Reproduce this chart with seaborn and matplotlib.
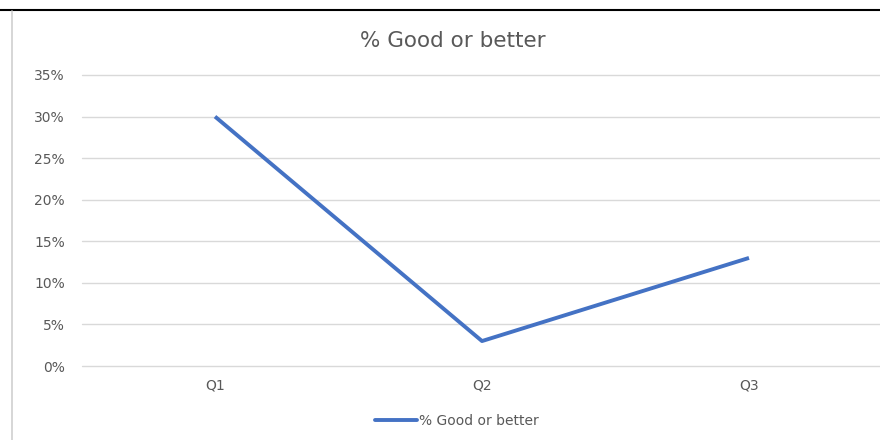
import matplotlib
matplotlib.use("Agg")
import matplotlib.pyplot as plt
import matplotlib.ticker as mticker
from matplotlib.lines import Line2D
import seaborn as sns
import pandas as pd

quarters = ["Q1", "Q2", "Q3"]
pct_good = [0.30, 0.03, 0.13]
series_name = "% Good or better"

sns.set_theme(style="white")
plt.rcParams["font.family"] = ["DejaVu Sans"]

text_color = "#595959"
line_color = "#4472C4"
grid_color = "#D9D9D9"

df = pd.DataFrame({"quarter": quarters, "value": pct_good})

fig = plt.figure(figsize=(8.8, 4.4), dpi=100)
ax = fig.add_axes([81.5 / 880, 1 - 366 / 440, (882.5 - 81.5) / 880, (366 - 75) / 440])

sns.lineplot(data=df, x="quarter", y="value", ax=ax, color=line_color,
             linewidth=2.8, sort=False, legend=False, solid_capstyle="butt")

ax.set_xlim(-0.5, 2.5)
ax.set_ylim(0, 0.35)
ax.yaxis.set_major_locator(mticker.MultipleLocator(0.05))
ax.yaxis.set_major_formatter(mticker.PercentFormatter(1.0, decimals=0))
ax.grid(axis="y", color=grid_color, linewidth=1)
for gl in ax.get_ygridlines():
    gl.set_clip_on(False)
ax.set_axisbelow(True)
for s in ax.spines.values():
    s.set_visible(False)
ax.set_xlabel("")
ax.set_ylabel("")
ax.tick_params(axis="both", length=0, labelsize=10, colors=text_color)
ax.tick_params(axis="y", pad=12)
ax.tick_params(axis="x", pad=9)

fig.text(453 / 880, 1 - 41 / 440, series_name, ha="center", va="center",
         fontsize=15.5, color=text_color)

handle = Line2D([], [], color=line_color, linewidth=2.8)
fig.legend([handle], [series_name], loc="center", bbox_to_anchor=(457 / 880, 1 - 421 / 440),
           frameon=False, fontsize=10, labelcolor=text_color,
           handlelength=3.0, handletextpad=0.2)

# chart frame edges
fig.add_artist(Line2D([0, 1], [1 - 10.5 / 440] * 2, transform=fig.transFigure,
                      color="black", linewidth=1.5))
fig.add_artist(Line2D([12 / 880] * 2, [0, 1 - 11 / 440], transform=fig.transFigure,
                      color="#D0D0D0", linewidth=1.2))

fig.savefig("out.png", dpi=100)
